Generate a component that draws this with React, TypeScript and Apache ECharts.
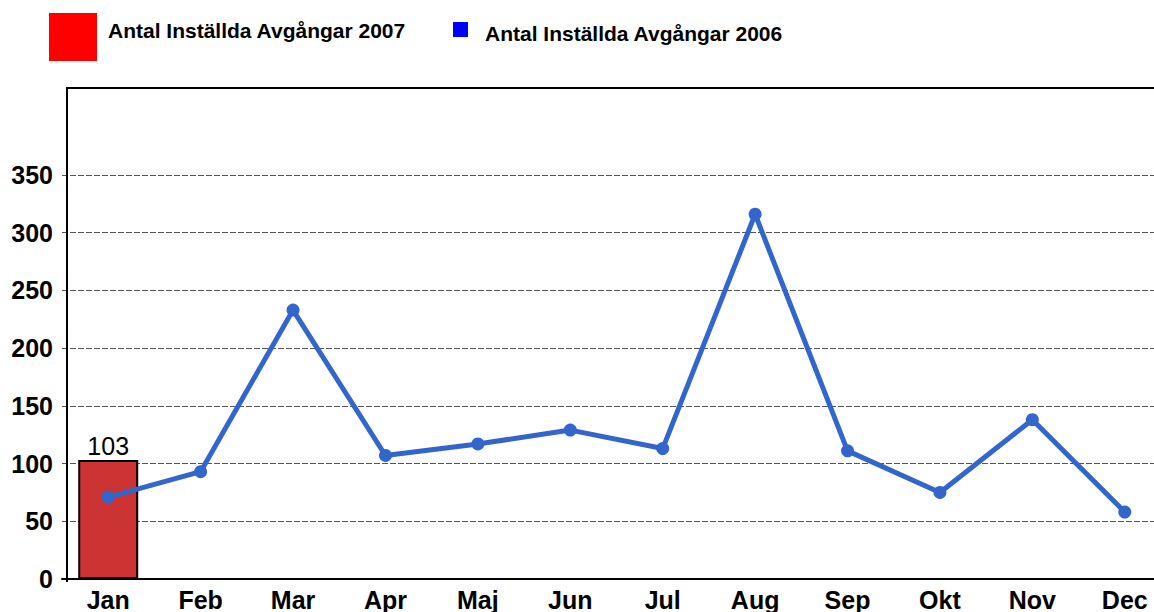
import React, { useEffect, useRef } from 'react';
import * as echarts from 'echarts';

const months = ['Jan', 'Feb', 'Mar', 'Apr', 'Maj', 'Jun', 'Jul', 'Aug', 'Sep', 'Okt', 'Nov', 'Dec'];
const name2007 = 'Antal Inställda Avgångar 2007';
const name2006 = 'Antal Inställda Avgångar 2006';
const values2007 = [103];
const values2006 = [71, 93, 233, 107, 117, 129, 113, 316, 111, 75, 138, 58];
const yMin = 0;
const yMax = 350;
const yInterval = 50;

const FONT = '"Liberation Sans", Arial, sans-serif';

export default function App() {
  const ref = useRef<HTMLDivElement>(null);
  useEffect(() => {
    if (!ref.current) return;
    const chart = echarts.init(ref.current, null, { renderer: 'svg' });
    chart.setOption({
      animation: false,
      backgroundColor: '#ffffff',
      textStyle: { fontFamily: FONT },
      grid: { left: 62, top: 175, width: 1109, height: 407, containLabel: false },
      xAxis: {
        type: 'category',
        data: months,
        boundaryGap: true,
        axisLine: { show: true, lineStyle: { color: '#000', width: 2 } },
        axisTick: { show: false },
        axisLabel: { color: '#000', fontSize: 25, fontWeight: 'bold', fontFamily: FONT, margin: 8, interval: 0 },
        splitLine: { show: false },
      },
      yAxis: {
        type: 'value',
        min: yMin,
        max: yMax,
        interval: yInterval,
        axisLine: { show: false },
        axisTick: { show: false },
        axisLabel: { color: '#000', fontSize: 25, fontWeight: 'bold', fontFamily: FONT, margin: 9 },
        splitLine: { show: true, lineStyle: { color: '#555', type: [6, 2], width: 1.2 } },
      },
      series: [
        {
          name: name2007,
          type: 'bar',
          data: values2007,
          barWidth: 60,
          itemStyle: { color: '#CC3333', borderColor: '#000', borderWidth: 2 },
          label: { show: true, position: 'top', color: '#000', fontSize: 25, fontFamily: FONT, distance: 2 },
          z: 2,
        },
        {
          name: name2006,
          type: 'line',
          data: values2006,
          symbol: 'circle',
          symbolSize: 13,
          lineStyle: { color: '#3366CC', width: 5 },
          itemStyle: { color: '#3366CC' },
          z: 3,
        },
      ],
      graphic: [
        {
          type: 'polyline',
          shape: { points: [[67, 582], [67, 88], [1190, 88]] },
          style: { stroke: '#000', lineWidth: 2, fill: 'none' },
          z: 10,
        },
        { type: 'rect', shape: { x: 49, y: 13, width: 48, height: 48 }, style: { fill: '#FF0000' } },
        {
          type: 'text',
          x: 108,
          y: 30,
          style: { text: name2007, fill: '#000', font: `bold 21px ${FONT}`, verticalAlign: 'middle', align: 'left' },
        },
        { type: 'rect', shape: { x: 453, y: 22, width: 15, height: 15 }, style: { fill: '#0000FF' } },
        {
          type: 'text',
          x: 485,
          y: 33,
          style: { text: name2006, fill: '#000', font: `bold 21px ${FONT}`, verticalAlign: 'middle', align: 'left' },
        },
      ],
    });
    return () => chart.dispose();
  }, []);
  return (
    <div style={{ position: 'fixed', left: 0, top: 0, width: 1154, height: 612, overflow: 'hidden' }}>
      <div ref={ref} style={{ width: 1200, height: 612 }} />
    </div>
  );
}
